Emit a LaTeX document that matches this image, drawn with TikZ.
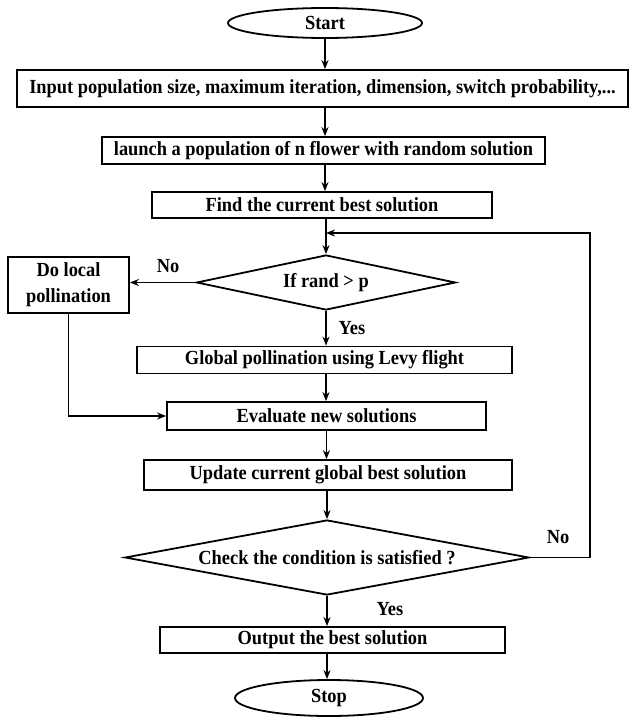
\documentclass[tikz,border=0pt]{standalone}
\usepackage{fontspec}
\setmainfont{Liberation Serif}[FakeStretch=0.92]
\usetikzlibrary{shapes.geometric,arrows.meta}
\begin{document}
\begin{tikzpicture}[x=1pt,y=-1pt,
  every node/.style={font=\fontsize{20}{26}\selectfont\bfseries, inner sep=0pt},
  box/.style={draw, line width=1.8pt, rectangle},
  term/.style={draw, line width=1.8pt, ellipse},
  dec/.style={draw, line width=1.8pt, diamond},
  lbl/.style={font=\fontsize{20}{22}\selectfont\bfseries},
  arr/.style={line width=1.8pt, -{Stealth[length=9pt,width=7pt]}},
  ln/.style={line width=1.8pt}]
\useasboundingbox (0,0) rectangle (629,717);
\node[term, minimum width=194pt, minimum height=30pt] (start) at (325,23) {Start};
\node[box, minimum width=611pt, minimum height=37pt] (input) at (322.5,88.5) {Input population size, maximum iteration, dimension, switch probability,...};
\node[box, minimum width=443pt, minimum height=27pt] (launch) at (323.5,150.5) {launch a population of n flower with random solution};
\node[box, minimum width=340pt, minimum height=26pt] (find) at (322,205) {Find the current best solution};
\node[dec, aspect=4.7, minimum width=259pt, minimum height=55pt] (d1) at (326,282.5) {If rand > p};
\node[box, minimum width=121pt, minimum height=56pt, align=center] (local) at (68.5,285) {Do local\\pollination};
\node[box, minimum width=375pt, minimum height=27pt] (global) at (324.5,360) {Global pollination using Levy flight};
\node[box, minimum width=319pt, minimum height=28pt] (eval) at (326.5,416) {Evaluate new solutions};
\node[box, minimum width=368pt, minimum height=30pt] (update) at (328,475) {Update current global best solution};
\node[dec, aspect=5.3, minimum width=404pt, minimum height=75pt] (check) at (327,557.5) {Check the condition is satisfied ?};
\node[box, minimum width=345pt, minimum height=26pt] (output) at (332.5,640) {Output the best solution};
\node[term, minimum width=188pt, minimum height=36pt] (stop) at (329,698) {Stop};
\node[lbl] (no1) at (168,266) {No};
\node[lbl] (yes1) at (352,328) {Yes};
\node[lbl] (no2) at (558,537) {No};
\node[lbl] (yes2) at (390,609) {Yes};
\coordinate (lp) at (590,233);
\draw[arr] (start.south) -- (start.south |- input.north);
\draw[arr] (input.south -| start.south) -- (start.south |- launch.north);
\draw[arr] (launch.south -| start.south) -- (start.south |- find.north);
\draw[arr] (find.south -| d1.north) -- (d1.north);
\draw[arr] (d1.west) -- (d1.west -| local.east);
\draw[arr] (d1.south) -- (d1.south |- global.north);
\draw[arr] (global.south -| d1.south) -- (d1.south |- eval.north);
\draw[arr] (local.south) -- (local.south |- eval.west) -- (eval.west);
\draw[arr] (eval.south) -- (eval.south |- update.north);
\draw[arr] (update.south -| check.north) -- (check.north);
\draw[arr] (check.south) -- (check.south |- output.north);
\draw[arr] (output.south -| check.south) -- (check.south |- stop.north);
\draw[arr] (check.east) -| (lp) -- (d1.north |- lp);
\end{tikzpicture}
\end{document}
